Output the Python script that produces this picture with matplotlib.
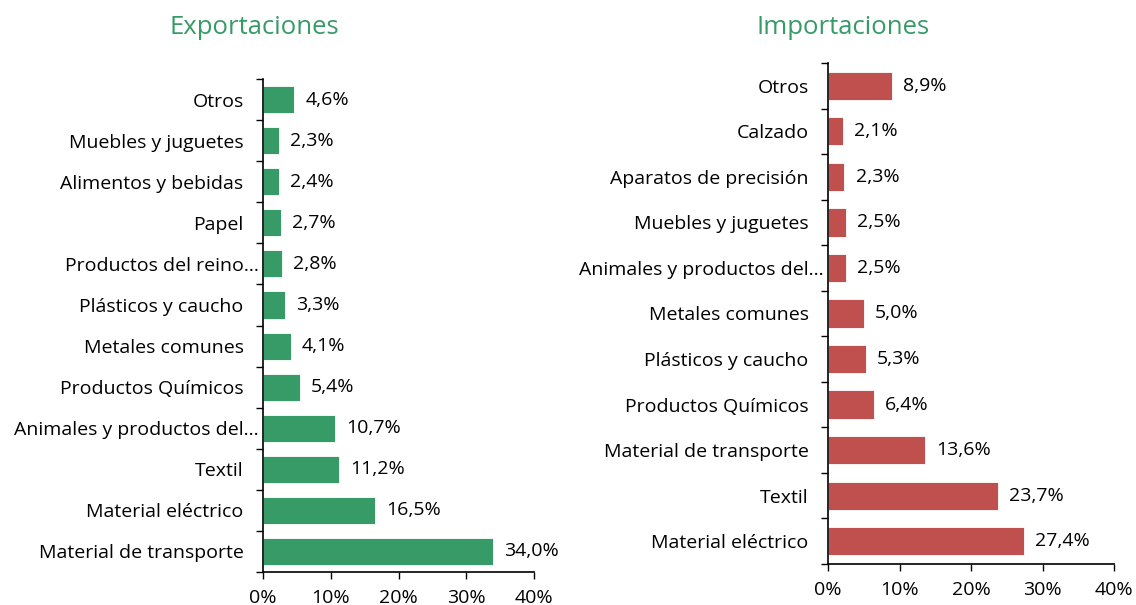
import matplotlib
matplotlib.use("Agg")
import matplotlib.pyplot as plt
import matplotlib.transforms as mtransforms
from matplotlib.ticker import FixedLocator, PercentFormatter

plt.rcParams['font.family'] = ['Open Sans', 'DejaVu Sans']

exp_categories = ["Otros", "Muebles y juguetes", "Alimentos y bebidas", "Papel",
                  "Productos del reino…", "Plásticos y caucho", "Metales comunes",
                  "Productos Químicos", "Animales y productos del…", "Textil",
                  "Material eléctrico", "Material de transporte"]
exp_values = [4.6, 2.3, 2.4, 2.7, 2.8, 3.3, 4.1, 5.4, 10.7, 11.2, 16.5, 34.0]

imp_categories = ["Otros", "Calzado", "Aparatos de precisión", "Muebles y juguetes",
                  "Animales y productos del…", "Metales comunes", "Plásticos y caucho",
                  "Productos Químicos", "Material de transporte", "Textil",
                  "Material eléctrico"]
imp_values = [8.9, 2.1, 2.3, 2.5, 2.5, 5.0, 5.3, 6.4, 13.6, 23.7, 27.4]

x_ticks = [0, 10, 20, 30, 40]

GREEN = "#379B68"
RED = "#C0504D"
FS = 14

fig = plt.figure(figsize=(11.36, 6.05), dpi=100)

def draw(ax, cats, vals, color, bh):
    n = len(cats)
    ys = list(range(n))
    ax.barh(ys, vals, height=bh, color=color, edgecolor="white", linewidth=0.6)
    ax.set_ylim(n - 0.5, -0.5)
    ax.set_xlim(0, 40)
    ax.set_yticks(ys)
    ax.set_yticklabels(cats, fontsize=FS)
    ax.yaxis.set_minor_locator(FixedLocator([i - 0.5 for i in range(n + 1)]))
    ax.tick_params(axis='y', which='major', length=0, pad=14)
    ax.tick_params(axis='y', which='minor', length=5, width=1, direction='out')
    ax.set_xticks(x_ticks)
    ax.xaxis.set_major_formatter(PercentFormatter(decimals=0))
    ax.tick_params(axis='x', which='major', length=5, width=1, direction='out',
                   labelsize=FS, pad=7)
    for s in ["top", "right"]:
        ax.spines[s].set_visible(False)
    for s in ["left", "bottom"]:
        ax.spines[s].set_color("black")
        ax.spines[s].set_linewidth(1.2)
    # truncated labels sit closer to the axis
    shift = mtransforms.ScaledTranslation(11 / 72, 0, fig.dpi_scale_trans)
    for lab in ax.get_yticklabels():
        if lab.get_text().endswith("…"):
            lab.set_transform(lab.get_transform() + shift)
    for y, v in zip(ys, vals):
        ax.annotate(f"{v:.1f}%".replace(".", ","), (v, y), xytext=(8, 0),
                    textcoords="offset points", va="center", ha="left", fontsize=FS)

ax1 = fig.add_axes([0.2315, 0.0545, 0.2386, 0.8149])
draw(ax1, exp_categories, exp_values, GREEN, 0.66)
ax2 = fig.add_axes([0.7289, 0.0678, 0.2518, 0.8281])
draw(ax2, imp_categories, imp_values, RED, 0.62)

fig.text(254 / 1136, 1 - 28 / 605, "Exportaciones", color=GREEN, fontsize=18.5,
         ha="center", va="center")
fig.text(843 / 1136, 1 - 28 / 605, "Importaciones", color=GREEN, fontsize=18.5,
         ha="center", va="center")

fig.savefig("out.png", dpi=100)
